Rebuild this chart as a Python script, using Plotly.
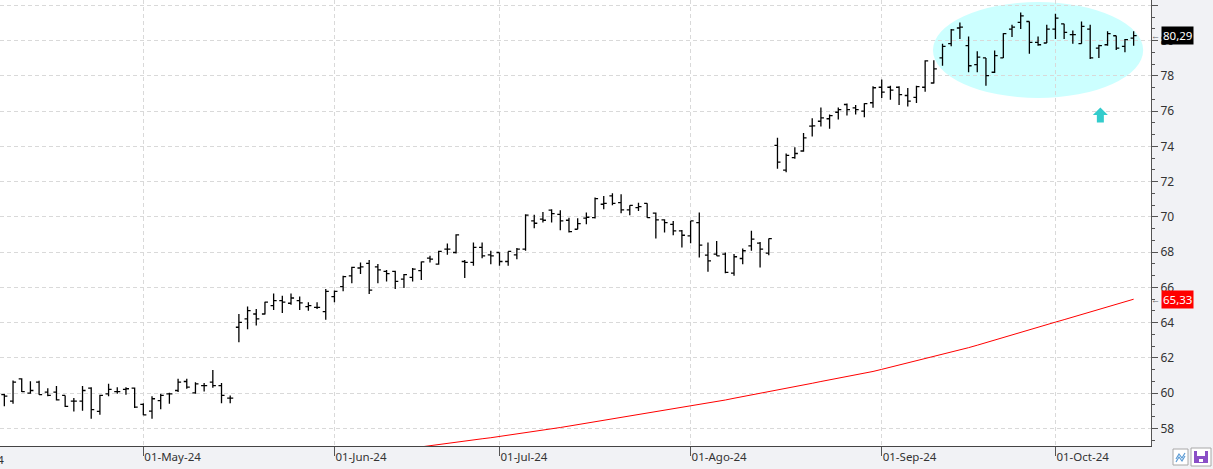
import pandas as pd
import plotly.graph_objects as go

# ---------------- data ----------------
HOLIDAYS = ["2024-05-27", "2024-06-19", "2024-07-04", "2024-09-02"]
DATES = [d.strftime("%Y-%m-%d") for d in pd.bdate_range("2024-04-09", "2024-10-14")
         if d.strftime("%Y-%m-%d") not in HOLIDAYS]

OPEN = [59.91, 59.55, 60.81, 60.00, 60.62, 60.06, 60.06, 59.87, 59.55, 59.55,
        60.28, 58.96, 59.96, 60.09, 60.21, 60.28, 59.36, 58.98, 59.58, 59.96,
        60.15, 60.66, 60.02, 60.43, 60.62, 60.43, 59.72,
        63.74, 64.21, 64.49, 64.49, 64.97, 65.25, 65.10, 65.25, 64.91, 64.87,
        64.63, 65.48, 66.04, 66.66, 67.10, 67.36, 67.17, 66.91, 66.91, 66.47,
        66.57, 66.95, 67.66, 67.32, 68.17, 67.98, 67.47, 67.42, 68.27, 67.85,
        67.98, 67.47, 67.85, 68.17, 69.78, 69.87, 70.38, 70.15, 69.81, 69.30,
        69.93, 69.96, 70.72, 71.19, 70.81, 70.40, 70.53, 70.77, 70.21, 69.83,
        69.58, 69.21, 68.92, 69.68, 67.83, 67.89, 67.89, 66.81, 67.64, 68.36,
        68.51, 67.94, 74.06, 72.66, 73.36, 73.74, 75.15, 75.43, 75.57, 75.94,
        76.38, 76.19, 76.00, 76.48, 77.36, 77.36, 77.36, 76.89, 76.78, 77.36,
        77.60, 79.02, 79.83, 80.72, 79.72, 78.64, 79.02, 78.21, 79.02, 80.66,
        81.04, 81.09, 79.90, 79.87, 80.66, 80.96, 80.34, 79.83, 80.66, 79.58,
        79.77, 80.28, 79.68, 80.15]

HIGH = [59.96, 60.72, 60.85, 60.68, 60.70, 60.28, 60.40, 59.87, 59.72, 60.40,
        60.34, 59.91, 60.53, 60.34, 60.34, 60.32, 59.42, 59.83, 59.96, 60.02,
        60.81, 60.81, 60.62, 60.57, 61.32, 60.57, 59.87,
        64.49, 64.91, 64.78, 65.19, 65.66, 65.53, 65.66, 65.48, 65.16, 65.16,
        65.91, 65.82, 66.66, 67.17, 67.42, 67.55, 67.33, 66.99, 66.95, 66.76,
        67.10, 67.47, 67.79, 68.08, 68.49, 69.02, 67.55, 68.55, 68.55, 68.08,
        67.98, 68.04, 68.23, 70.15, 70.12, 70.28, 70.44, 70.38, 69.96, 69.93,
        70.25, 71.10, 71.19, 71.34, 71.28, 70.66, 70.81, 70.77, 70.25, 69.87,
        69.77, 69.26, 69.77, 70.25, 68.55, 68.64, 67.98, 67.89, 68.21, 69.21,
        68.58, 68.77, 74.49, 73.60, 73.95, 74.76, 75.60, 76.21, 75.81, 76.21,
        76.43, 76.35, 76.45, 77.42, 77.80, 77.45, 77.42, 77.32, 77.45, 78.89,
        78.89, 79.83, 80.66, 81.04, 80.24, 79.40, 79.02, 79.45, 80.43, 80.90,
        81.60, 81.09, 80.24, 80.90, 81.53, 80.96, 80.58, 81.09, 80.90, 79.77,
        80.53, 80.28, 80.09, 80.53]

LOW = [59.26, 59.40, 60.06, 59.96, 59.91, 59.83, 59.58, 59.21, 58.96, 59.00,
       58.55, 58.77, 59.83, 59.96, 59.91, 59.15, 58.74, 58.55, 59.08, 59.40,
       60.06, 60.25, 59.96, 60.09, 60.30, 59.43, 59.43,
       62.89, 63.63, 63.84, 64.46, 64.72, 64.55, 65.02, 64.72, 64.68, 64.78,
       64.16, 65.16, 65.78, 66.23, 66.76, 65.63, 66.23, 66.34, 65.91, 65.96,
       66.34, 66.42, 67.42, 67.29, 67.85, 67.92, 66.53, 67.23, 67.66, 67.32,
       67.23, 67.23, 67.60, 68.08, 69.36, 69.68, 69.68, 69.25, 69.11, 69.30,
       69.58, 69.91, 70.43, 70.66, 70.21, 70.09, 70.34, 69.96, 68.77, 69.11,
       68.96, 68.26, 68.51, 67.70, 66.89, 67.79, 66.81, 66.66, 67.32, 68.08,
       67.13, 67.83, 72.73, 72.54, 73.30, 73.70, 74.57, 75.13, 75.01, 75.53,
       75.76, 75.81, 75.65, 76.19, 76.75, 76.65, 76.35, 76.26, 76.47, 77.10,
       77.57, 78.58, 79.68, 80.09, 78.21, 78.21, 77.45, 78.17, 79.02, 80.21,
       80.66, 79.26, 79.72, 79.87, 80.09, 80.09, 79.83, 79.83, 78.96, 79.02,
       79.72, 79.47, 79.34, 79.72]

CLOSE = [59.83, 60.62, 60.09, 60.15, 59.91, 59.87, 59.62, 59.25, 59.55, 60.15,
         59.06, 59.87, 60.21, 60.09, 60.25, 59.21, 58.77, 59.68, 59.87, 59.96,
         60.62, 60.34, 60.53, 60.43, 60.43, 59.87, 59.72,
         64.02, 64.68, 64.21, 65.16, 65.25, 65.16, 65.40, 65.12, 64.97, 64.87,
         65.78, 65.78, 66.61, 67.14, 67.17, 65.85, 67.00, 66.78, 66.34, 66.72,
         67.04, 67.45, 67.60, 68.04, 68.17, 68.98, 67.42, 68.27, 67.79, 67.79,
         67.47, 68.04, 68.17, 70.10, 69.64, 69.81, 70.19, 69.78, 69.17, 69.62,
         69.98, 71.04, 70.77, 70.77, 70.40, 70.66, 70.58, 69.96, 69.83, 69.68,
         69.21, 68.96, 69.77, 68.40, 67.51, 67.79, 66.85, 67.74, 68.08, 68.74,
         68.17, 68.77, 73.11, 73.49, 73.60, 74.49, 75.17, 75.62, 75.75, 76.09,
         76.09, 76.09, 76.43, 77.33, 77.08, 77.19, 76.94, 76.57, 77.39, 78.85,
         78.40, 79.68, 80.62, 80.77, 78.58, 79.07, 78.02, 79.15, 80.40, 80.77,
         81.41, 79.90, 79.77, 80.66, 81.28, 80.47, 80.34, 80.81, 79.02, 79.72,
         80.40, 79.58, 80.06, 80.29]

# red moving average, starting at bar index MA_START
MA_START = 46
MA = [56.82, 56.89, 56.95, 57.02, 57.08, 57.15, 57.21, 57.28, 57.34, 57.41,
      57.47, 57.54, 57.60, 57.67, 57.73, 57.81, 57.89, 57.97, 58.05, 58.13,
      58.21, 58.29, 58.37, 58.45, 58.53, 58.61, 58.69, 58.77, 58.85, 58.93,
      59.01, 59.09, 59.17, 59.25, 59.33, 59.42, 59.52, 59.61, 59.71, 59.80,
      59.90, 59.99, 60.09, 60.18, 60.28, 60.37, 60.47, 60.56, 60.66, 60.75,
      60.85, 60.94, 61.04, 61.13, 61.23, 61.35, 61.47, 61.59, 61.71, 61.83,
      61.95, 62.07, 62.19, 62.31, 62.43, 62.58, 62.72, 62.87, 63.01, 63.16,
      63.30, 63.45, 63.59, 63.74, 63.88, 64.03, 64.17, 64.32, 64.46, 64.61,
      64.75, 64.90, 65.04, 65.19, 65.33]

TICK_DATES = ["2024-05-01", "2024-06-03", "2024-07-01", "2024-08-01", "2024-09-03", "2024-10-01"]
TICK_TEXT = ["01-May-24", "01-Jun-24", "01-Jul-24", "01-Ago-24", "01-Sep-24", "01-Oct-24"]

LAST_PRICE = 80.29
LAST_MA = 65.33

# ---------------- figure ----------------
W, H = 1213, 469
ML, MR, MT, MB = 0, 62, 0, 23
PW, PH = W - ML - MR, H - MT - MB
FONT = "Noto Sans, Open Sans, sans-serif"


def px_x(px):
    return px / PW


def px_y(py):
    return (PH - py) / PH


fig = go.Figure()
fig.add_trace(go.Ohlc(
    x=DATES, open=OPEN, high=HIGH, low=LOW, close=CLOSE,
    increasing=dict(line=dict(color="black", width=1.3)),
    decreasing=dict(line=dict(color="black", width=1.3)),
    tickwidth=0.35, hoverinfo="skip"))
fig.add_trace(go.Scatter(
    x=DATES[MA_START:MA_START + len(MA)], y=MA, mode="lines",
    line=dict(color="#ff0000", width=1), hoverinfo="skip"))

fig.update_layout(
    width=W, height=H, margin=dict(l=ML, r=MR, t=MT, b=MB),
    paper_bgcolor="#f1f2f5", plot_bgcolor="white", showlegend=False,
    font=dict(family=FONT, size=12, color="#333"))

fig.update_xaxes(
    type="category", range=[-0.5, 132.0], rangeslider_visible=False,
    tickmode="array", tickvals=TICK_DATES, ticktext=TICK_TEXT,
    ticks="outside", ticklen=9, tickcolor="#555", ticklabelposition="outside right",
    showgrid=True, gridcolor="#d9d9d9", griddash="4px,3px", gridwidth=1,
    showline=True, linecolor="#444", linewidth=1, zeroline=False,
    tickfont=dict(family=FONT, size=11.5, color="#333"))

fig.update_yaxes(
    side="right", range=[57.0, 82.31], tick0=58, dtick=2,
    ticks="outside", ticklen=6, tickcolor="#555",
    showline=True, linecolor="#555", linewidth=1, zeroline=False,
    showgrid=True, gridcolor="#d9d9d9", griddash="4px,3px", gridwidth=1,
    minor=dict(tick0=58, dtick=2 / 3, ticks="outside", ticklen=3, tickcolor="#555", showgrid=False),
    tickfont=dict(family=FONT, size=12, color="#333"))

# highlighted zone (ellipse)
fig.add_shape(type="circle", xref="x", yref="y", x0=106.9, x1=131.1, y0=76.75, y1=82.19,
              fillcolor="#ccffff", line_width=0, layer="below")

# cyan up arrow
fig.add_shape(type="path", xref="x", yref="y", xsizemode="pixel", ysizemode="pixel",
              xanchor=126.17, yanchor=75.78,
              path="M 0 7.5 L 7.5 0 L 3.5 0 L 3.5 -7.5 L -3.5 -7.5 L -3.5 0 L -7.5 0 Z",
              fillcolor="#33cccc", line_width=0)

# price tags on the right axis
for val, bg in [(LAST_PRICE, "black"), (LAST_MA, "#ff0000")]:
    fig.add_annotation(xref="paper", yref="y", x=1, y=val, xanchor="left", xshift=10,
                       text=f"{val:.2f}".replace(".", ","), showarrow=False, bgcolor=bg,
                       font=dict(family=FONT, color="white", size=11.5), borderpad=1)
    fig.add_annotation(xref="paper", yref="y", x=1, y=val, xanchor="left", xshift=-1,
                       text="←", showarrow=False, borderpad=0,
                       font=dict(family=FONT, color="#666", size=9))

# cut-off April label at left edge
fig.add_annotation(xref="paper", yref="paper", x=px_x(6), y=px_y(459), xanchor="right",
                   yanchor="middle", text="01-Abr-24", showarrow=False,
                   font=dict(family=FONT, size=11.5, color="#333"))

# bottom-right toolbar icons
fig.add_shape(type="rect", xref="paper", yref="paper", x0=px_x(1173), x1=px_x(1188),
              y0=px_y(465), y1=px_y(449), fillcolor="white", line=dict(color="#a8a8a8", width=1))
fig.add_shape(type="path", xref="paper", yref="paper",
              path=f"M {px_x(1176)} {px_y(459)} L {px_x(1179)} {px_y(454)} L {px_x(1182)} {px_y(458)} L {px_x(1185)} {px_y(453)}",
              line=dict(color="#5b9bd5", width=1.2))
fig.add_shape(type="path", xref="paper", yref="paper",
              path=f"M {px_x(1176)} {px_y(462)} L {px_x(1179)} {px_y(457)} L {px_x(1182)} {px_y(461)} L {px_x(1185)} {px_y(456)}",
              line=dict(color="#5b9bd5", width=1.2))
fig.add_shape(type="rect", xref="paper", yref="paper", x0=px_x(1191), x1=px_x(1211),
              y0=px_y(466), y1=px_y(448), fillcolor="white", line=dict(color="#a8a8a8", width=1))
fig.add_shape(type="rect", xref="paper", yref="paper", x0=px_x(1194), x1=px_x(1208),
              y0=px_y(463), y1=px_y(451), fillcolor="#8a4fc7", line_width=0)
fig.add_shape(type="rect", xref="paper", yref="paper", x0=px_x(1197), x1=px_x(1205),
              y0=px_y(456), y1=px_y(451), fillcolor="white", line_width=0)
fig.add_shape(type="rect", xref="paper", yref="paper", x0=px_x(1199), x1=px_x(1203),
              y0=px_y(462), y1=px_y(459), fillcolor="white", line_width=0)

fig.write_html("out.html", config={"displayModeBar": False},
               post_script="document.body.style.margin='0';document.body.style.overflow='hidden';")
